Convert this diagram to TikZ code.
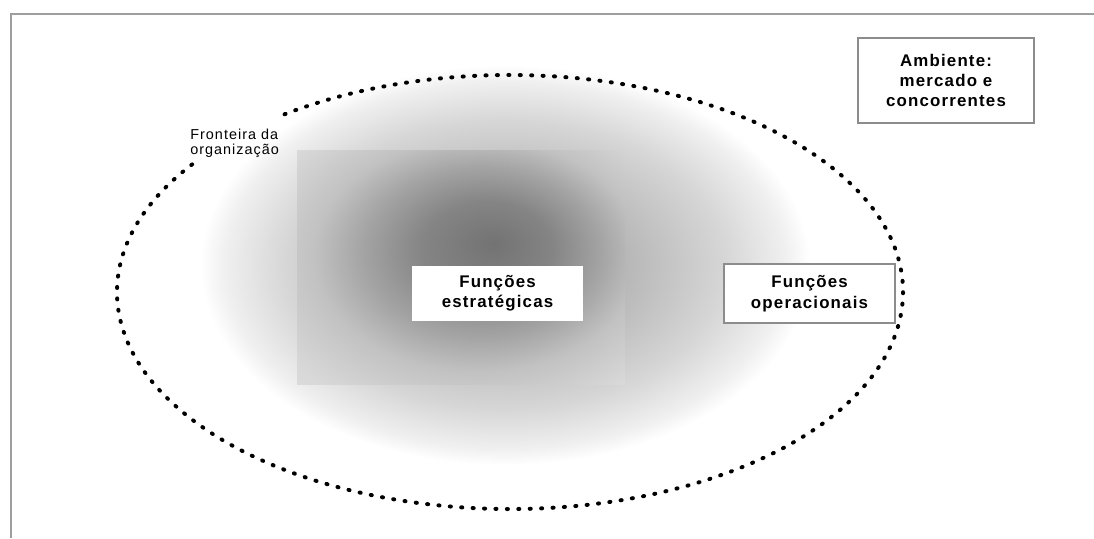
\documentclass[tikz,border=0pt]{standalone}
\usepackage{fontspec}
\setmainfont{Liberation Sans}
\newfontfamily\labelfont[LetterSpace=7]{Liberation Sans}
\usetikzlibrary{calc}

\definecolor{framegray}{gray}{0.62}
\definecolor{boxgray}{gray}{0.55}

% soft grey glow around the strategic core
\pgfdeclareradialshading{halo}{\pgfpoint{0bp}{0bp}}{%
  color(0bp)=(black!34); color(10bp)=(black!28); color(18bp)=(black!16);
  color(23bp)=(black!6); color(25bp)=(white); color(50bp)=(white)}
\pgfdeclareradialshading{core}{\pgfpoint{5bp}{5bp}}{%
  color(0bp)=(black!55); color(10bp)=(black!48); color(18bp)=(black!36);
  color(25bp)=(black!24); color(35bp)=(black!15); color(50bp)=(black!12)}

\tikzset{
  box/.style={draw=boxgray, line width=0.8pt, fill=white, align=center,
    inner sep=0pt, font=\labelfont\bfseries\fontsize{9.6}{11.6}\selectfont},
  note/.style={align=left, inner sep=0pt,
    font=\labelfont\fontsize{8.2}{8.4}\selectfont},
  dotline/.style={line width=2.27pt, line cap=round,
    dash pattern=on 0.6pt off 5.9pt},
  frameline/.style={draw=framegray, line width=0.85pt}
}

\begin{document}
\begin{tikzpicture}[x=0.02cm, y=-0.02cm]
  \useasboundingbox (0,0) rectangle (1094,538);
  \fill[white] (0,0) rectangle (1094,538);

  % page frame (top and left edges)
  \draw[frameline] (11,538) -- (11,14) -- (1094,14);

  % shaded centre of the organisation
  \shade[shading=halo] (505,265) ellipse [x radius=305, y radius=200];
  \shade[shading=core] (297,150) rectangle (625,384);

  % organisation boundary, open where its label sits
  \coordinate (orgc) at (510,292);
  \draw[dotline] (orgc) ++(235:393 and 217)
    arc[start angle=235, end angle=577, x radius=393, y radius=217];

  \node[note, anchor=west] (front) at (190,143) {Fronteira da\\organização};

  \node[box, minimum width=3.52cm, minimum height=1.7cm] (amb) at (946,80.5)
    {Ambiente:\\mercado e\\concorrentes};
  \node[box, draw=none, minimum width=3.42cm, minimum height=1.1cm] (est) at (497.5,293.5)
    {Funções\\estratégicas};
  \node[box, minimum width=3.42cm, minimum height=1.18cm] (ope) at (809.5,293.5)
    {Funções\\operacionais};
\end{tikzpicture}
\end{document}
